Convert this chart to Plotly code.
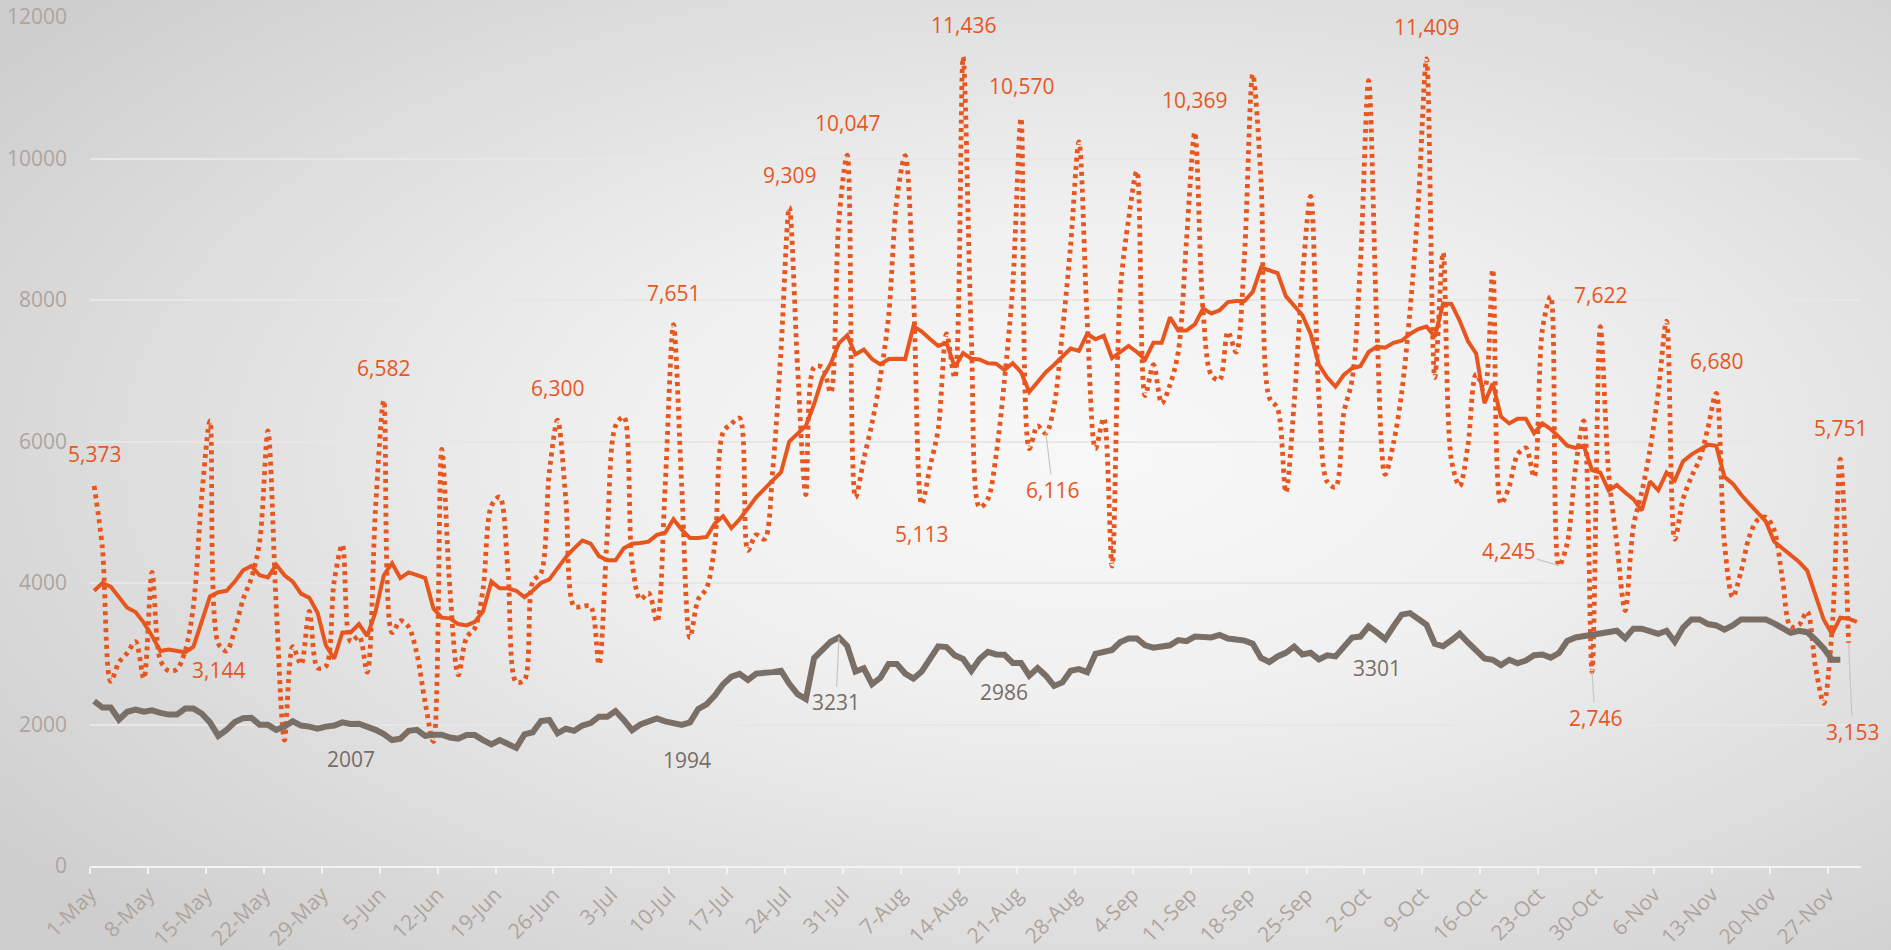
import base64
import pandas as pd
import plotly.graph_objects as go

# ---------------- data ----------------
START_DATE = "2020-05-01"
N_DAYS = 214  # 1-May .. 30-Nov

DAILY = [
    5373, 4490, 2610, 2880, 3010, 3170, 2650, 4150, 2910, 2760,
    2780, 3040, 3680, 5220, 6290, 3144, 3040, 3340, 3770, 4070,
    4580, 6150, 3680, 1780, 3100, 2850, 3600, 2800, 2820, 4020,
    4540, 3170, 3250, 2740, 5050, 6582, 3300, 3466, 3380, 3000,
    2310, 1760, 5890, 3900, 2700, 3230, 3360, 3920, 5090, 5215,
    4180, 2600, 2630, 4020, 4140, 5560, 6300, 5180, 3670, 3670,
    3670, 2850, 4680, 6220, 6350, 4300, 3770, 3860, 3450, 5370,
    7651, 5370, 3230, 3770, 3925, 4550, 6130, 6250, 6330, 4460,
    4680, 4620, 5600, 7300, 9309, 7050, 5250, 7050, 7050, 6690,
    9140, 10047, 5210, 5750, 6260, 6905, 7770, 9430, 10040, 8090,
    5113, 5640, 6180, 7520, 6900, 11436, 7480, 5070, 5190, 5820,
    6870, 8200, 10570, 5900, 6220, 6116, 6510, 7550, 8780, 10235,
    7700, 5900, 6330, 4240, 8130, 9140, 9820, 6650, 7085, 6540,
    6800, 7265, 8850, 10369, 7840, 6940, 6870, 7550, 7265, 8630,
    11190, 9700, 6620, 6470, 5280, 6540, 8310, 9463, 6620, 5430,
    5355, 6400, 6870, 8490, 11100, 7625, 5535, 5970, 6690, 7840,
    9355, 11409, 6905, 8670, 5750, 5370, 5940, 6950, 6750, 8430,
    5120, 5370, 5815, 5910, 5500, 7580, 8050, 4245, 4560, 5625,
    6290, 2746, 7622, 5560, 4555, 3610, 4800, 5280, 5880, 6700,
    7700, 4620, 5185, 5500, 5750, 6190, 6680, 4560, 3800, 4160,
    4655, 4890, 4930, 4750, 4066, 3383, 3406, 3595, 2817, 2300,
    3335, 5751, 3153,
]

AVG7 = [
    3890, 4000, 3950, 3810, 3650, 3590, 3440, 3250, 3040, 3060,
    3040, 3020, 3100, 3460, 3810, 3870, 3890, 4020, 4180, 4240,
    4110, 4080, 4260, 4110, 4020, 3850, 3790, 3580, 3120, 2930,
    3300, 3300, 3420, 3250, 3590, 4110, 4280, 4070, 4150, 4110,
    4070, 3640, 3510, 3500, 3420, 3400, 3450, 3600, 4020, 3925,
    3925, 3890, 3800, 3890, 4000, 4050, 4210, 4365, 4490, 4600,
    4555, 4380, 4320, 4320, 4490, 4555, 4565, 4585, 4680, 4710,
    4900, 4755, 4635, 4635, 4650, 4840, 4945, 4775, 4900, 5060,
    5210, 5330, 5450, 5565, 6000, 6105, 6220, 6530, 6900, 7100,
    7390, 7500, 7230, 7300, 7165, 7090, 7165, 7170, 7165, 7630,
    7555, 7450, 7350, 7395, 7050, 7250, 7170, 7160, 7105, 7100,
    7010, 7105, 6980, 6700, 6830, 6980, 7085, 7210, 7315, 7280,
    7520, 7445, 7495, 7180, 7265, 7350, 7265, 7160, 7395, 7395,
    7755, 7570, 7570, 7655, 7880, 7810, 7855, 7970, 7985, 7985,
    8115, 8455, 8420, 8380, 8055, 7925, 7785, 7520, 7085, 6905,
    6775, 6940, 7035, 7065, 7265, 7340, 7325, 7395, 7425, 7520,
    7590, 7625, 7480, 7950, 7945, 7710, 7420, 7240, 6540, 6820,
    6350, 6255, 6320, 6320, 6115, 6255, 6175, 6065, 5940, 5910,
    5940, 5595, 5560, 5310, 5385, 5280, 5185, 5025, 5435, 5310,
    5560, 5450, 5720, 5815, 5880, 5955, 5940, 5500, 5405, 5250,
    5120, 5000, 4870, 4585, 4490, 4400, 4300, 4175, 3830, 3480,
    3280, 3510, 3495, 3450,
]

GRAY = [
    2330, 2240, 2240, 2070, 2180, 2210, 2180, 2200, 2165, 2140,
    2140, 2225, 2225, 2155, 2030, 1840, 1925, 2035, 2090, 2095,
    1995, 1995, 1925, 1970, 2045, 1985, 1970, 1940, 1970, 1985,
    2030, 2007, 2010, 1970, 1925, 1865, 1780, 1800, 1910, 1925,
    1840, 1855, 1855, 1815, 1800, 1850, 1850, 1780, 1720, 1780,
    1720, 1670, 1860, 1890, 2050, 2065, 1875, 1940, 1910, 1985,
    2020, 2110, 2110, 2190, 2065, 1920, 2000, 2035, 2085, 2045,
    2010, 1994, 2030, 2220, 2285, 2410, 2570, 2675, 2715, 2630,
    2720, 2725, 2740, 2760, 2575, 2430, 2360, 2940, 3060, 3170,
    3231, 3110, 2750, 2795, 2570, 2660, 2855, 2855, 2720, 2650,
    2750, 2915, 3105, 3095, 2977, 2927, 2760, 2927, 3027, 2990,
    2986, 2870, 2870, 2690, 2797, 2690, 2545, 2595, 2760, 2782,
    2740, 3000, 3027, 3053, 3165, 3215, 3215, 3120, 3085, 3100,
    3120, 3193, 3178, 3243, 3230, 3230, 3265, 3215, 3200, 3186,
    3142, 2940, 2883, 2962, 3013, 3100, 2990, 3013, 2920, 2977,
    2962, 3100, 3230, 3243, 3387, 3301, 3207, 3387, 3553, 3575,
    3495, 3410, 3142, 3106, 3190, 3285, 3160, 3045, 2935, 2915,
    2840, 2915, 2865, 2905, 2980, 2990, 2945, 3010, 3180, 3230,
    3245, 3280, 3280, 3295, 3325, 3220, 3355, 3355, 3310, 3280,
    3325, 3170, 3370, 3485, 3485, 3420, 3400, 3340, 3400, 3485,
    3485, 3495, 3485, 3430, 3355, 3295, 3325, 3305, 3200, 3075,
    2915, 2915,
]

ORANGE_LABEL_DAYS = [0, 15, 35, 56, 70, 84, 91, 100, 105, 112, 115,
                     133, 161, 177, 181, 182, 196, 211, 212]
GRAY_LABEL_DAYS = [31, 71, 90, 110, 155]
Y_TICKS = [0, 2000, 4000, 6000, 8000, 10000, 12000]

# ---------------- styles ----------------
ORANGE = "#e8561f"
GRAY_LINE = "#7a6f66"
GRAY_TEXT = "#776d65"
TICK_TEXT = "#aea59c"
FONT = "Open Sans"

# label offsets in screen pixels (dx, dy, leader line)
ORANGE_OFFSETS = {
    0: (0, -32, False), 15: (0, 26, False), 35: (0, -32, False),
    56: (0, -32, False), 70: (0, -32, False), 84: (0, -32, False),
    91: (0, -32, False), 100: (0, 30, False), 105: (0, -32, False),
    112: (0, -32, False), 115: (7, 57, True), 133: (0, -32, False),
    161: (0, -32, False), 177: (-50, -15, True), 181: (3, 46, True),
    182: (0, -32, False), 196: (0, -32, False), 211: (0, -31, False),
    212: (4, 89, True),
}
GRAY_OFFSETS = {
    31: (0, 35, False), 71: (5, 35, False), 90: (-3, 65, True),
    110: (0, 37, False), 155: (0, 36, False),
}

W, H = 1891, 950
ML, MR, MT, MB = 90, 30, 17, 84
PW, PH = W - ML - MR, H - MT - MB

days = pd.date_range(START_DATE, periods=N_DAYS, freq="D")
x_mid = days + pd.Timedelta(hours=12)

fig = go.Figure()
fig.add_trace(go.Scatter(
    x=x_mid[:len(DAILY)], y=DAILY, mode="lines", name="Daily",
    line=dict(color=ORANGE, width=4.8, dash="4px,4.4px",
              shape="spline", smoothing=0.9),
))
fig.add_trace(go.Scatter(
    x=x_mid[:len(AVG7)], y=AVG7, mode="lines", name="7-day avg",
    line=dict(color=ORANGE, width=4),
))
fig.add_trace(go.Scatter(
    x=x_mid[:len(GRAY)], y=GRAY, mode="lines", name="Other 7-day avg",
    line=dict(color=GRAY_LINE, width=6),
))

annotations = []


def add_labels(day_list, series, offsets, color, fmt):
    for d in day_list:
        dx, dy, leader = offsets[d]
        text = fmt(series[d])
        base = dict(x=x_mid[d], y=series[d], xref="x", yref="y", text=text,
                    font=dict(family=FONT, size=21, color=color))
        if leader:
            base.update(showarrow=True, ax=dx, ay=dy, arrowhead=0,
                        arrowwidth=1.2, arrowcolor="#cbc5bf", standoff=0)
        else:
            base.update(showarrow=False, xshift=dx, yshift=-dy)
        annotations.append(base)


add_labels(ORANGE_LABEL_DAYS, DAILY, ORANGE_OFFSETS, ORANGE, lambda v: f"{v:,}")
add_labels(GRAY_LABEL_DAYS, GRAY, GRAY_OFFSETS, GRAY_TEXT, lambda v: f"{v}")

svg = (
    f"<svg xmlns='http://www.w3.org/2000/svg' width='{W}' height='{H}' "
    f"viewBox='0 0 {W} {H}' preserveAspectRatio='none'>"
    "<defs><radialGradient id='g' cx='0.58' cy='0.48' r='0.72'>"
    "<stop offset='0' stop-color='#f8f8f8'/>"
    "<stop offset='0.35' stop-color='#f0f0f0'/>"
    "<stop offset='1' stop-color='#cecece'/>"
    "</radialGradient></defs>"
    f"<rect width='{W}' height='{H}' fill='url(#g)'/></svg>"
)
bg_src = "data:image/svg+xml;base64," + base64.b64encode(svg.encode()).decode()

fig.update_layout(
    width=W, height=H,
    margin=dict(l=ML, r=MR, t=MT, b=MB, pad=0, autoexpand=False),
    paper_bgcolor="#dddddd",
    plot_bgcolor="rgba(0,0,0,0)",
    showlegend=False,
    font=dict(family=FONT, size=21, color=TICK_TEXT),
    annotations=annotations,
    images=[dict(
        source=bg_src, xref="paper", yref="paper",
        x=-ML / PW, y=1 + MT / PH, sizex=W / PW, sizey=H / PH,
        xanchor="left", yanchor="top", sizing="stretch", layer="below",
    )],
)

fig.update_xaxes(
    type="date", automargin=False,
    range=[days[0], days[-1] + pd.Timedelta(days=1)],
    tick0=days[0], dtick=7 * 86400000, tickformat="%-d-%b",
    tickangle=-45, ticks="outside", ticklen=6, tickwidth=2,
    tickcolor="#f3f3f3", showline=True, linecolor="#f3f3f3", linewidth=2,
    showgrid=False, zeroline=False,
    tickfont=dict(family=FONT, size=21, color=TICK_TEXT),
)
fig.update_yaxes(
    range=[0, 12000], tickvals=Y_TICKS, tickformat="d", automargin=False,
    showgrid=True, gridcolor="#e9e7e5", gridwidth=1.5,
    zeroline=False, showline=False, ticks="",
    ticklabelstandoff=22,
    tickfont=dict(family=FONT, size=21, color=TICK_TEXT),
)

fig.write_html(
    "out.html",
    config={"displayModeBar": False},
    post_script="document.body.style.margin='0';"
                "document.body.style.overflow='hidden';",
)
